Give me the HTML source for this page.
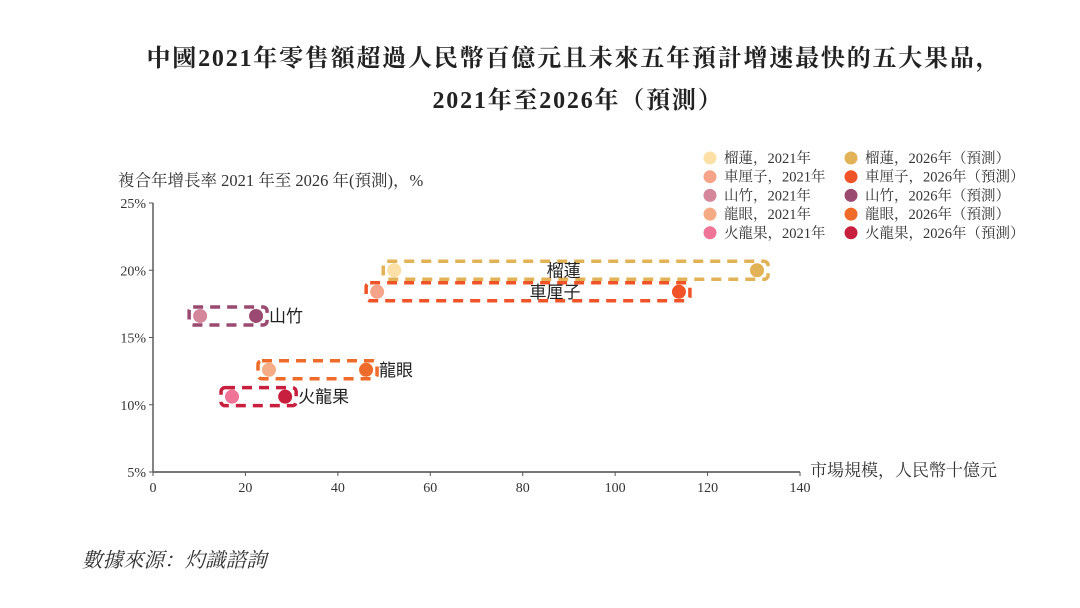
<!DOCTYPE html>
<html><head><meta charset="utf-8"><style>
html,body{margin:0;padding:0;background:#fff;}
body{width:1080px;height:603px;overflow:hidden;position:relative;}
svg text{font-family:"Liberation Serif","Noto Serif CJK SC",serif;}
</style></head><body>
<svg id="chart" width="1080" height="603" viewBox="0 0 1080 603" xmlns="http://www.w3.org/2000/svg">
<text x="574" y="66" text-anchor="middle" font-size="24" font-weight="bold" letter-spacing="1.8" fill="#222">中國2021年零售額超過人民幣百億元且未來五年預計增速最快的五大果品，</text>
<text x="578" y="108" text-anchor="middle" font-size="24" font-weight="bold" letter-spacing="1.8" fill="#222">2021年至2026年（預測）</text>
<text x="118" y="186" font-size="16.5" fill="#333">複合年增長率 2021 年至 2026 年(預測)，%</text>
<text x="810" y="476" font-size="17" fill="#333">市場規模，人民幣十億元</text>
<text x="82" y="567" font-size="20.5" font-style="italic" fill="#333">數據來源：灼識諮詢</text>
<g id="axes"></g><g id="boxes"></g><g id="marks"></g><g id="legend"></g>
</svg>
<script>
const fruits=["榴蓮","車厘子","山竹","龍眼","火龍果"];
const size2021=[52.2,48.5,10.2,25.1,17.1];
const size2026=[130.7,113.8,22.3,46.1,28.6];
const cagr=[20.0,18.4,16.6,12.6,10.6];
const xTicks=[0,20,40,60,80,100,120,140];
const yTicks=[5,10,15,20,25];
const c2021=["#fde0a6","#f5a48a","#d4869a","#f5ab84","#f07497"];
const c2026=["#e2b256","#f05327","#9a4a70","#ee6b2a","#c81f3f"];
const boxCol=["#e2b256","#f05327","#9a4a70","#ee6b2a","#c81f3f"];
const labelInside=[true,true,false,false,false];
const NS="http://www.w3.org/2000/svg";
const X0=153,X1=800,Y0=472,Y1=203;
const xs=v=>X0+(v-0)/(140-0)*(X1-X0);
const ys=v=>Y0-(v-5)/(25-5)*(Y0-Y1);
function mk(tag,attrs,parent,txt){const e=document.createElementNS(NS,tag);for(const k in attrs)e.setAttribute(k,attrs[k]);if(txt!==undefined)e.textContent=txt;document.getElementById(parent).appendChild(e);return e;}
let e=mk("line",{x1:X0,y1:Y1,x2:X0,y2:Y0,stroke:"#333","stroke-width":1.2},"axes");


e=mk("line",{x1:X0,y1:Y0,x2:X1,y2:Y0,stroke:"#777","stroke-width":2},"axes");


xTicks.forEach(t=>{
  mk("line",{x1:xs(t),y1:Y0,x2:xs(t),y2:Y0+4,stroke:"#555"},"axes");
  const l=mk("text",{x:xs(t),y:Y0+20,"text-anchor":"middle","font-size":14,fill:"#333"},"axes",t);
  
  
});
yTicks.forEach(t=>{
  mk("line",{x1:X0-4,y1:ys(t),x2:X0,y2:ys(t),stroke:"#555"},"axes");
  const l=mk("text",{x:X0-7,y:ys(t)+5,"text-anchor":"end","font-size":14,fill:"#333"},"axes",t+"%");
  
  
});
const insideShift=[-12,27,0,0,0];
fruits.forEach((f,i)=>{
  const xa=xs(size2021[i]),xb=xs(size2026[i]),y=ys(cagr[i]);
  const b=mk("rect",{x:xa-11,y:y-9,width:xb-xa+22,height:18,rx:4,fill:"none",stroke:boxCol[i],"stroke-width":3.5,"stroke-dasharray":"10,7"},"boxes");
  
  
  const p1=mk("circle",{cx:xa,cy:y,r:7,fill:c2021[i]},"marks");
  
  
  const p2=mk("circle",{cx:xb,cy:y,r:7,fill:c2026[i]},"marks");
  
  
  let lbl;
  const st="font-family:'Liberation Sans','Noto Sans CJK SC',sans-serif";
  if(labelInside[i]) lbl=mk("text",{x:(xa+xb)/2+insideShift[i],y:y+6,"text-anchor":"middle","font-size":17,fill:"#222",style:st},"marks",f);
  else lbl=mk("text",{x:xb+13,y:y+6,"font-size":17,fill:"#222",style:st},"marks",f);
  
  
});
fruits.forEach((f,i)=>{
  const y=158+i*18.7;
  const a=mk("circle",{cx:710,cy:y,r:6.5,fill:c2021[i]},"legend");
  
  
  const t=mk("text",{x:724,y:y+5,"font-size":14.5,fill:"#333"},"legend",f+"，2021年");
  
  
  const c=mk("circle",{cx:851,cy:y,r:6.5,fill:c2026[i]},"legend");
  
  
  const u=mk("text",{x:865,y:y+5,"font-size":14.5,fill:"#333"},"legend",f+"，2026年（預測）");
  
  
});
</script>
</body></html>
